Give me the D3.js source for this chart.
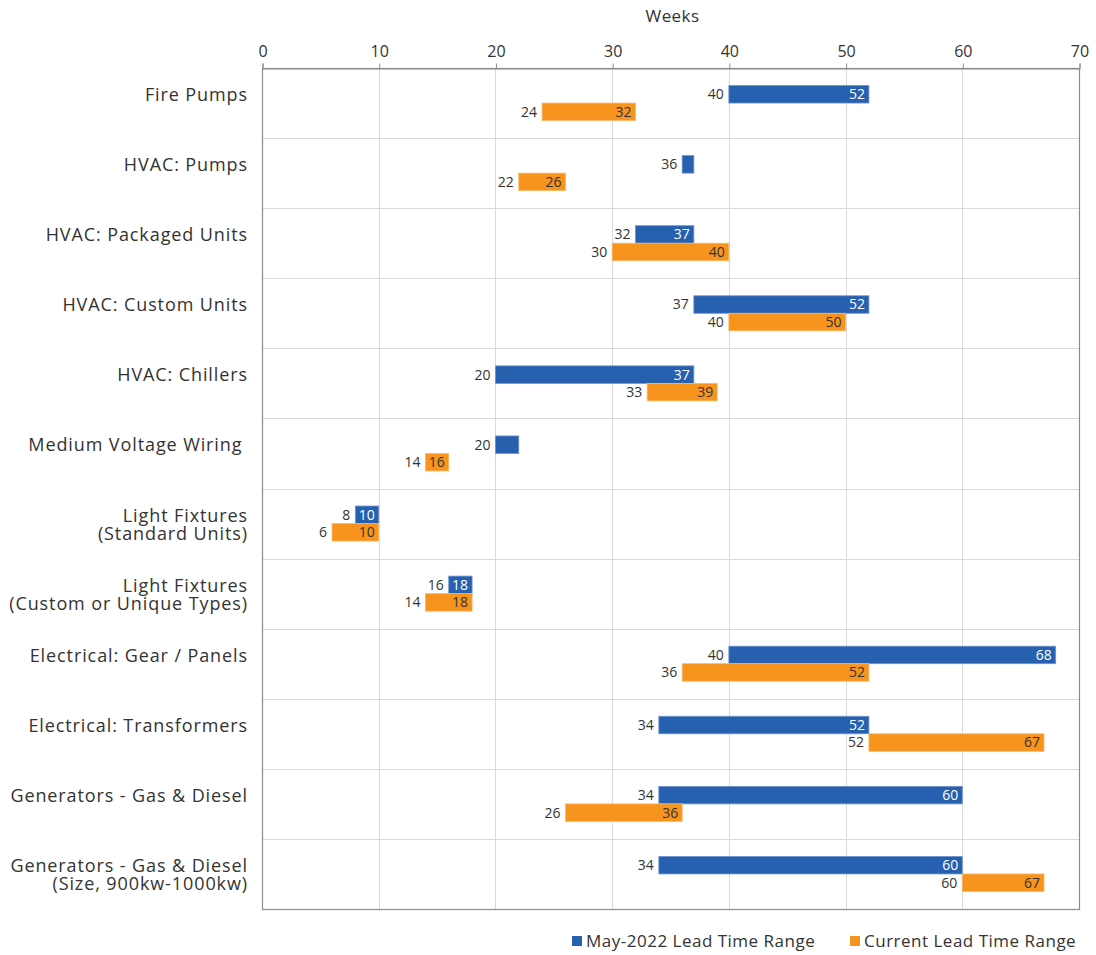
<!DOCTYPE html>
<html>
<head>
<meta charset="utf-8">
<script src="https://cdn.jsdelivr.net/npm/d3@7"></script>
<style>
  html, body { margin: 0; padding: 0; background: #fff; }
  svg { display: block; font-family: "Open Sans", Lato, sans-serif; }
</style>
</head>
<body>
<svg id="chart" width="1096" height="955"></svg>
<script>
// Equipment categories (each may wrap onto a second line)
const categories = [
  ["Fire Pumps", ""],
  ["HVAC: Pumps", ""],
  ["HVAC: Packaged Units", ""],
  ["HVAC: Custom Units", ""],
  ["HVAC: Chillers", ""],
  ["Medium Voltage Wiring ", ""],
  ["Light Fixtures", "(Standard Units)"],
  ["Light Fixtures", "(Custom or Unique Types)"],
  ["Electrical: Gear / Panels", ""],
  ["Electrical: Transformers", ""],
  ["Generators - Gas & Diesel", ""],
  ["Generators - Gas & Diesel", "(Size, 900kw-1000kw)"]
];

// Lead time ranges in weeks
const mayStart = [40, 36, 32, 37, 20, 20, 8, 16, 40, 34, 34, 34];
const mayEnd   = [52, 37, 37, 52, 37, 22, 10, 18, 68, 52, 60, 60];
const curStart = [24, 22, 30, 40, 33, 14, 6, 14, 36, 52, 26, 60];
const curEnd   = [32, 26, 40, 50, 39, 16, 10, 18, 52, 67, 36, 67];

// Rows where the May-2022 end value has no label
const mayEndUnlabelled = [1, 5];

const xTicks = [0, 10, 20, 30, 40, 50, 60, 70];
const seriesNames = ["May-2022 Lead Time Range", "Current Lead Time Range"];
const seriesColors = ["#2660ae", "#f7941d"];

const svg = d3.select("#chart");
const plotLeft = 262, plotRight = 1079, plotTop = 68, plotBottom = 909;

const keys = categories.map((c, i) => i);
const x = d3.scaleLinear().domain([0, 70]).range([plotLeft, plotRight]);
const y = d3.scaleBand().domain(keys).range([plotTop, plotBottom]);
const barH = y.bandwidth() * 0.25;

// Vertical gridlines
svg.append("g").selectAll("line").data(xTicks).join("line")
  .attr("x1", d => Math.round(x(d)) + 0.5).attr("x2", d => Math.round(x(d)) + 0.5)
  .attr("y1", plotTop).attr("y2", plotBottom)
  .attr("stroke", "#d9d9d9").attr("stroke-width", 1);

// Horizontal category separators
svg.append("g").selectAll("line").data(keys.slice(1)).join("line")
  .attr("x1", plotLeft).attr("x2", plotRight)
  .attr("y1", d => Math.round(y(d)) + 0.5).attr("y2", d => Math.round(y(d)) + 0.5)
  .attr("stroke", "#d9d9d9").attr("stroke-width", 1);

// Plot frame
svg.append("rect")
  .attr("x", plotLeft + 0.5).attr("y", plotTop + 0.5)
  .attr("width", plotRight - plotLeft).attr("height", plotBottom - plotTop)
  .attr("fill", "none").attr("stroke", "#8c8c8c").attr("stroke-width", 1.2);

// Top axis
const axis = svg.append("g")
  .attr("transform", `translate(0.5,${plotTop + 0.5})`)
  .call(d3.axisTop(x).tickValues(xTicks).tickSize(5).tickPadding(7).tickFormat(d3.format("d")));
axis.select(".domain").attr("stroke", "#8c8c8c");
axis.selectAll(".tick line").attr("stroke", "#8c8c8c");
axis.selectAll(".tick text")
  .attr("fill", "#333").style("font-size", "16px").style("font-family", "'Open Sans', sans-serif");

svg.append("text")
  .attr("x", (plotLeft + plotRight) / 2 + 2).attr("y", 22)
  .attr("text-anchor", "middle").attr("fill", "#333")
  .style("font-size", "17px").style("letter-spacing", "0.4px").text("Weeks");

// Category labels
const catG = svg.append("g").selectAll("text").data(keys).join("text")
  .attr("x", 248)
  .attr("text-anchor", "end")
  .attr("fill", "#333")
  .style("font-size", "18px")
  .style("letter-spacing", "0.9px")
  .style("white-space", "pre");
catG.each(function (i) {
  const c = y(i) + y.bandwidth() / 2;
  const t = d3.select(this);
  t.append("tspan").attr("x", 248).attr("y", c - 2).text(categories[i][0]);
  t.append("tspan").attr("x", 248).attr("y", c + 16).text(categories[i][1]);
});

// Bars for both series
const series = [
  { s: mayStart, e: mayEnd, dy: -barH, color: seriesColors[0], inside: "#fff", stroke: "#6f95cc" },
  { s: curStart, e: curEnd, dy: 0, color: seriesColors[1], inside: "#333", stroke: "#fbb869" }
];

series.forEach((ser, si) => {
  const g = svg.append("g");
  g.selectAll("rect").data(keys).join("rect")
    .attr("x", i => x(ser.s[i]))
    .attr("y", i => y(i) + y.bandwidth() / 2 + ser.dy)
    .attr("width", i => x(ser.e[i]) - x(ser.s[i]))
    .attr("height", barH)
    .attr("fill", ser.color)
    .attr("stroke", ser.stroke).attr("stroke-width", 0.8);

  // Start value to the left of each bar
  g.selectAll("text.start").data(keys).join("text")
    .attr("class", "start")
    .attr("x", i => x(ser.s[i]) - 5)
    .attr("y", i => y(i) + y.bandwidth() / 2 + ser.dy + barH / 2)
    .attr("dy", "0.35em")
    .attr("text-anchor", "end")
    .attr("fill", "#333")
    .style("font-size", "14px")
    .text(i => ser.s[i]);

  // End value inside the bar's right edge
  g.selectAll("text.end")
    .data(keys.filter(i => !(si === 0 && mayEndUnlabelled.includes(i))))
    .join("text")
    .attr("class", "end")
    .attr("x", i => x(ser.e[i]) - 4)
    .attr("y", i => y(i) + y.bandwidth() / 2 + ser.dy + barH / 2)
    .attr("dy", "0.35em")
    .attr("text-anchor", "end")
    .attr("fill", ser.inside)
    .style("font-size", "14px")
    .text(i => ser.e[i]);
});

// Legend
const legendX = [572, 850];
const leg = svg.append("g").selectAll("g").data(seriesNames).join("g")
  .attr("transform", (d, i) => `translate(${legendX[i]},936)`);
leg.append("rect").attr("width", 10).attr("height", 10)
  .attr("fill", (d, i) => seriesColors[i]);
leg.append("text").attr("x", 14).attr("y", 5).attr("dy", "0.35em")
  .attr("fill", "#333").style("font-size", "17px").style("letter-spacing", "0.5px")
  .text(d => d);
</script>
</body>
</html>
